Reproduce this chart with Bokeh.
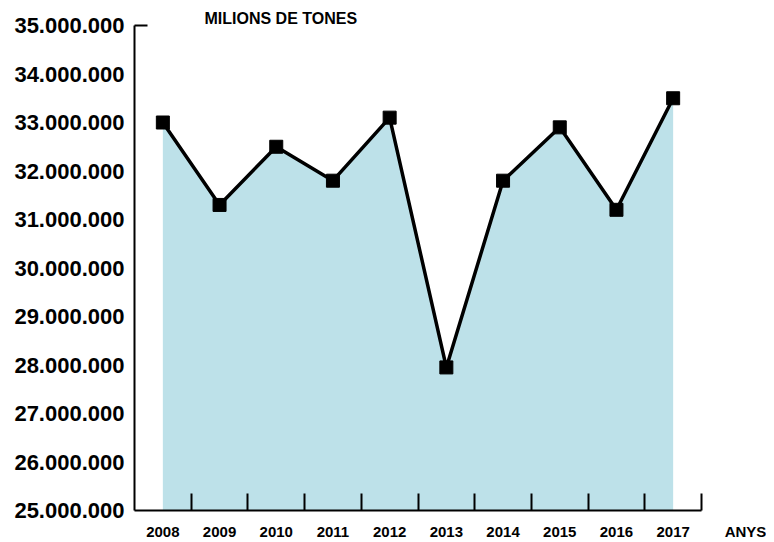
from bokeh.plotting import figure
from bokeh.models import FixedTicker, Range1d, Label, LinearAxis
from bokeh.embed import file_html
from bokeh.resources import INLINE

years = ["2008", "2009", "2010", "2011", "2012", "2013", "2014", "2015", "2016", "2017"]
tonnes = [33000000, 31300000, 32500000, 31800000, 33100000, 27950000, 31800000, 32900000, 31200000, 33500000]
y_ticks = [25000000, 26000000, 27000000, 28000000, 29000000, 30000000,
           31000000, 32000000, 33000000, 34000000, 35000000]
y_tick_labels = ["25.000.000", "26.000.000", "27.000.000", "28.000.000", "29.000.000", "30.000.000",
                 "31.000.000", "32.000.000", "33.000.000", "34.000.000", "35.000.000"]
title_text = "MILIONS DE TONES"
x_title = "ANYS"

FONT = "Liberation Sans"
Y_MIN, Y_MAX = y_ticks[0], y_ticks[-1]
xs = list(range(len(years)))
n = len(years)

# layout (pixels)
W, H = 766, 542
LEFT, RIGHT_AXIS_END, TOP_AXIS, BOTTOM = 134, 701, 25, 510
px_per_x = (RIGHT_AXIS_END - LEFT) / n
px_per_y = (BOTTOM - TOP_AXIS) / (Y_MAX - Y_MIN)
x_end = -0.5 + (W - LEFT) / px_per_x
y_end = Y_MAX + TOP_AXIS / px_per_y
anys_pos = (n - 0.5) + 44 / px_per_x

p = figure(width=W, height=H, output_backend="svg", toolbar_location=None,
           x_range=Range1d(-0.5, x_end), y_range=Range1d(Y_MIN, y_end),
           min_border_left=LEFT, min_border_right=0, min_border_top=0, min_border_bottom=H - BOTTOM)
p.outline_line_color = None
p.xgrid.visible = False
p.ygrid.visible = False
p.background_fill_color = "white"
p.border_fill_color = "white"

# area
p.varea(x=xs, y1=[Y_MIN] * n, y2=tonnes, fill_color="#bde1e9")
# line + markers
p.line(x=xs, y=tonnes, line_color="black", line_width=3.5)
p.scatter(x=xs, y=tonnes, marker="square", size=13, fill_color="black", line_color="black")

# y axis
yax = p.yaxis[0]
yax.bounds = (Y_MIN, Y_MAX)
yax.ticker = FixedTicker(ticks=y_ticks, minor_ticks=[Y_MAX])
yax.major_label_overrides = {t: l for t, l in zip(y_ticks, y_tick_labels)}
yax.major_tick_line_color = None
yax.major_tick_in = 0
yax.major_tick_out = 0
yax.minor_tick_in = 13
yax.minor_tick_out = 0
yax.minor_tick_line_color = "black"
yax.minor_tick_line_width = 2
yax.axis_line_color = "black"
yax.axis_line_width = 2
yax.major_label_standoff = 10
yax.major_label_text_font = FONT
yax.major_label_text_font_style = "bold"
yax.major_label_text_font_size = "22px"
yax.major_label_text_color = "black"

# x axis line with boundary ticks (no labels)
xax = p.xaxis[0]
xax.bounds = (-0.5, n - 0.5)
xax.ticker = FixedTicker(ticks=[], minor_ticks=[i + 0.5 for i in xs])
xax.major_tick_line_color = None
xax.major_tick_in = 0
xax.major_tick_out = 0
xax.major_label_standoff = 0
xax.minor_tick_in = 17
xax.minor_tick_out = 0
xax.minor_tick_line_color = "black"
xax.minor_tick_line_width = 2
xax.axis_line_color = "black"
xax.axis_line_width = 2

# x labels axis (years + ANYS)
lab_ticks = xs + [anys_pos]
lab_text = years + [x_title]
xlab = LinearAxis(ticker=FixedTicker(ticks=lab_ticks, minor_ticks=[]),
                  major_label_overrides={t: l for t, l in zip(lab_ticks, lab_text)},
                  axis_line_color=None, major_tick_line_color=None, minor_tick_line_color=None,
                  major_tick_in=0, major_tick_out=0, minor_tick_in=0, minor_tick_out=0,
                  major_label_standoff=12, major_label_text_font=FONT,
                  major_label_text_font_style="bold", major_label_text_font_size="15px",
                  major_label_text_color="black")
p.add_layout(xlab, "below")

p.add_layout(Label(x=-0.5, y=Y_MAX, x_offset=70, y_offset=7, text=title_text,
                   text_font=FONT, text_font_style="bold", text_font_size="16px",
                   text_baseline="middle", text_color="black"))

open("out.html", "w").write(file_html(p, INLINE))
